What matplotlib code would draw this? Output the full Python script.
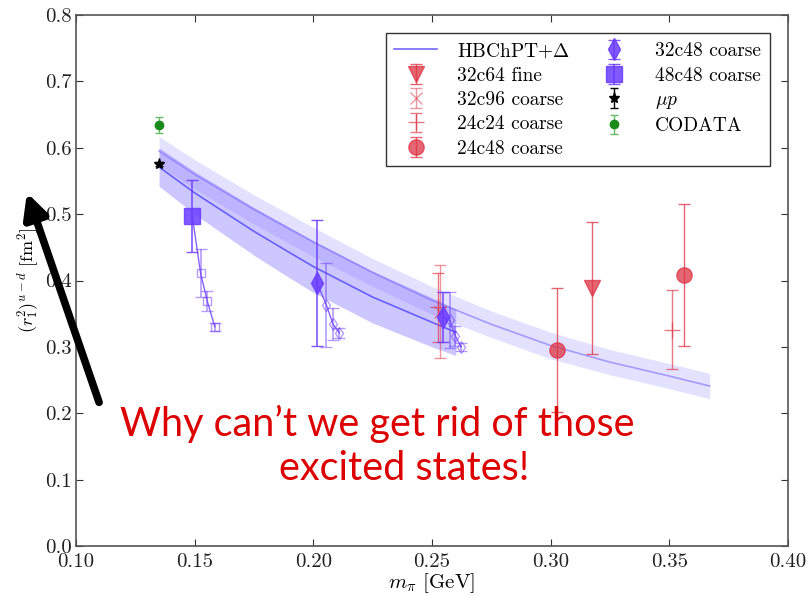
import matplotlib
matplotlib.use("Agg")
import matplotlib.pyplot as plt
import numpy as np

plt.rcParams['font.family'] = ['cmr10', 'DejaVu Serif']
plt.rcParams['mathtext.fontset'] = 'cm'
plt.rcParams['axes.formatter.use_mathtext'] = True
plt.rcParams['axes.unicode_minus'] = False

# ---- fit bands ----
fitA_x = [0.135, 0.15, 0.175, 0.20, 0.225, 0.25, 0.275, 0.30, 0.325, 0.35, 0.367]
fitA_y = [0.595, 0.560, 0.507, 0.458, 0.412, 0.370, 0.334, 0.302, 0.277, 0.256, 0.241]
fitA_hw = [0.022, 0.022, 0.022, 0.022, 0.021, 0.021, 0.020, 0.020, 0.019, 0.019, 0.019]

fitB_x = [0.135, 0.15, 0.175, 0.19, 0.20, 0.225, 0.25, 0.26]
fitB_y = [0.571, 0.532, 0.474, 0.442, 0.421, 0.375, 0.337, 0.322]
fitB_hw = [0.029, 0.032, 0.036, 0.038, 0.039, 0.039, 0.037, 0.035]

# ---- lattice data ----
f32c64_x = [0.3175]; f32c64_y = [0.389]; f32c64_e = [0.099]
c32c96_x = [0.2535]; c32c96_y = [0.353]; c32c96_e = [0.070]
c24c24_x = [0.2525, 0.351]; c24c24_y = [0.360, 0.326]; c24c24_e = [0.052, 0.059]
c24c48_x = [0.3027, 0.356]; c24c48_y = [0.295, 0.409]; c24c48_e = [0.093, 0.107]

# 32c48 coarse (two pion masses) with excited-state trails
c32c48a_x = [0.2016, 0.2055, 0.2083, 0.2110]
c32c48a_y = [0.396, 0.363, 0.334, 0.321]
c32c48a_e = [0.095, 0.063, 0.024, 0.008]
c32c48b_x = [0.2545, 0.2575, 0.2598, 0.2622]
c32c48b_y = [0.345, 0.340, 0.317, 0.300]
c32c48b_e = [0.038, 0.042, 0.015, 0.006]

# 48c48 coarse with excited-state trail
c48c48_x = [0.149, 0.1525, 0.1553, 0.1585]
c48c48_y = [0.497, 0.411, 0.369, 0.330]
c48c48_e = [0.054, 0.036, 0.015, 0.006]

mup_x = [0.135]; mup_y = [0.576]; mup_e = [0.003]
codata_x = [0.135]; codata_y = [0.634]; codata_e = [0.012]

red = '#dd3344'
purple = '#6a3cff'
bandc = '#7b6cff'

fig = plt.figure(figsize=(8.1, 5.96), dpi=100)
ax = fig.add_axes([76/810, 1-546/596, (788-76)/810, (546-15)/596])

# bands
ax.fill_between(fitA_x, np.array(fitA_y)-np.array(fitA_hw), np.array(fitA_y)+np.array(fitA_hw),
                color=bandc, alpha=0.2, lw=0)
ax.fill_between(fitB_x, np.array(fitB_y)-np.array(fitB_hw), np.array(fitB_y)+np.array(fitB_hw),
                color=bandc, alpha=0.38, lw=0)
ax.plot(fitA_x, fitA_y, color=bandc, lw=1.2, alpha=0.6)
lineB, = ax.plot(fitB_x, fitB_y, color='#5a4cff', lw=1.2, alpha=0.85, label=r'HBChPT+$\Delta$')

cap = 4
h1 = ax.errorbar(f32c64_x, f32c64_y, yerr=f32c64_e, fmt='v', color=red, alpha=0.75, ms=11,
                 capsize=cap, elinewidth=1.0, label='32c64 fine')
h2 = ax.errorbar(c32c96_x, c32c96_y, yerr=c32c96_e, fmt='x', color=red, alpha=0.5, ms=9,
                 capsize=cap, elinewidth=1.0, label='32c96 coarse')
h3 = ax.errorbar(c24c24_x, c24c24_y, yerr=c24c24_e, fmt='+', color=red, alpha=0.65, ms=11,
                 capsize=cap, elinewidth=1.0, label='24c24 coarse')
h4 = ax.errorbar(c24c48_x, c24c48_y, yerr=c24c48_e, fmt='o', color=red, alpha=0.75, ms=11,
                 capsize=cap, elinewidth=1.0, label='24c48 coarse')

# trails
for xs, ys, es, mk in [(c32c48a_x, c32c48a_y, c32c48a_e, 'd'),
                       (c32c48b_x, c32c48b_y, c32c48b_e, 'd'),
                       (c48c48_x, c48c48_y, c48c48_e, 's')]:
    ax.plot(xs, ys, color=purple, lw=1.0, alpha=0.8)
    ax.errorbar(xs[1:], ys[1:], yerr=es[1:], fmt=mk, mfc='none', mec=purple, color=purple,
                alpha=0.5, ms=6, capsize=cap, elinewidth=1.2)

h5 = ax.errorbar(c32c48a_x[:1] + c32c48b_x[:1], c32c48a_y[:1] + c32c48b_y[:1],
                 yerr=c32c48a_e[:1] + c32c48b_e[:1], fmt='d', color=purple, alpha=0.85, ms=11,
                 capsize=cap, elinewidth=1.2, label='32c48 coarse')
h6 = ax.errorbar(c48c48_x[:1], c48c48_y[:1], yerr=c48c48_e[:1], fmt='s', color=purple, alpha=0.85,
                 ms=11, capsize=cap, elinewidth=1.2, label='48c48 coarse')
h7 = ax.errorbar(mup_x, mup_y, yerr=mup_e, fmt='*', color='black', ms=8, capsize=3,
                 elinewidth=1.0, label=r'$\mu p$')
h8 = ax.errorbar(codata_x, codata_y, yerr=codata_e, fmt='o', color='#1a8a1a', ecolor='#66bb66',
                 ms=6, capsize=3, elinewidth=1.0, label='CODATA')

ax.set_xlim(0.10, 0.40)
ax.set_ylim(0.0, 0.8)
ax.set_xticks([0.10, 0.15, 0.20, 0.25, 0.30, 0.35, 0.40])
ax.set_xticklabels(['0.10', '0.15', '0.20', '0.25', '0.30', '0.35', '0.40'])
ax.set_yticks([0.0, 0.1, 0.2, 0.3, 0.4, 0.5, 0.6, 0.7, 0.8])
ax.set_yticklabels(['0.0', '0.1', '0.2', '0.3', '0.4', '0.5', '0.6', '0.7', '0.8'])
ax.tick_params(direction='in', top=True, right=True, labelsize=15, length=5,
               colors='#333333', labelcolor='#222222')
ax.tick_params(axis='y', pad=3)
ax.tick_params(axis='x', pad=5)
for s in ax.spines.values():
    s.set_color('#555555')
    s.set_linewidth(1.2)

ax.set_xlabel(r'$m_\pi$ [GeV]', fontsize=15, labelpad=0)
ax.set_ylabel(r'$(r_1^2)^{u-d}$ [fm$^2$]', fontsize=13, labelpad=4)

handles = [lineB, h1, h2, h3, h4, h5, h6, h7, h8]
leg = ax.legend(handles=handles, loc='upper right', ncol=2, fontsize=14, frameon=True,
                fancybox=False, edgecolor='black', borderpad=0.45, labelspacing=0.33,
                handlelength=2.2, handletextpad=1.0, columnspacing=1.2,
                bbox_to_anchor=(0.988, 0.985))
leg.get_frame().set_linewidth(1.0)

# annotation
fig.text(120/810, 1-424/596, 'Why can\u2019t we get rid of those', color='#dd0000',
         fontsize=28.5, family='Lato', ha='left', va='center')
fig.text(404/810, 1-469/596, 'excited states!', color='#dd0000',
         fontsize=28.5, family='Lato', ha='center', va='center')
ax.annotate('', xy=(26, 596-190), xycoords='figure pixels',
            xytext=(100, 596-405), textcoords='figure pixels',
            arrowprops=dict(arrowstyle='-|>', lw=5.5, color='black', mutation_scale=36),
            annotation_clip=False)

fig.savefig('out.png', dpi=100)
